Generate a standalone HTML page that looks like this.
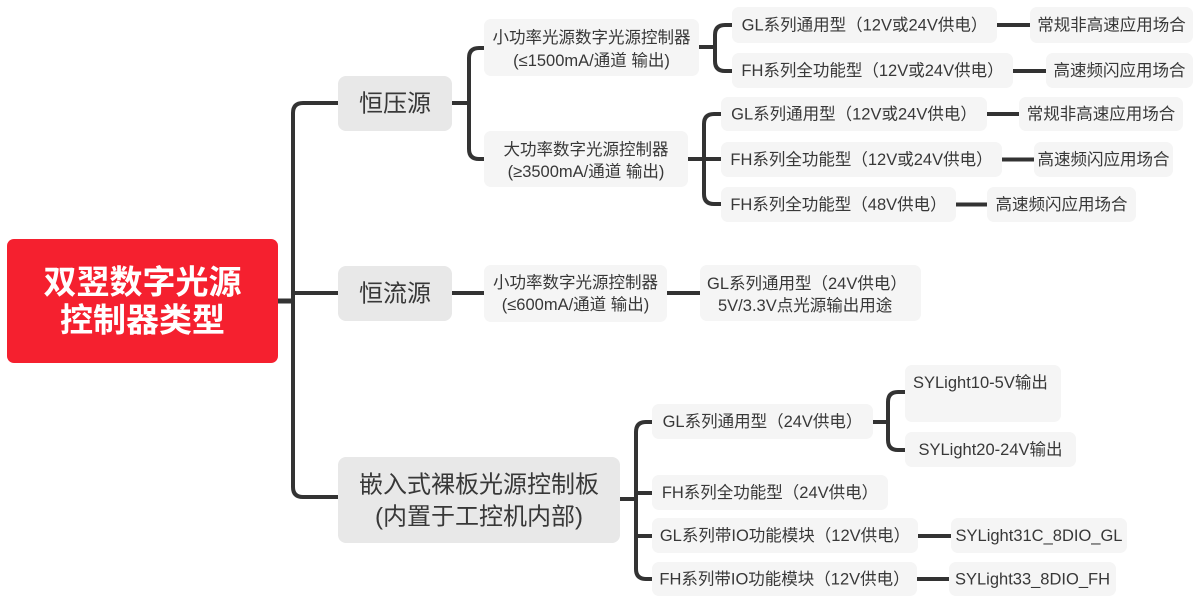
<!DOCTYPE html>
<html><head><meta charset="utf-8">
<style>
html,body{margin:0;padding:0;background:#fff;}
svg{display:block;}
text{font-family:"Liberation Sans","Noto Sans CJK SC",sans-serif;fill:#383838;}
.l1{font-size:24px;}
.lf{font-size:16.5px;}
.root{font-size:33px;font-weight:bold;fill:#fff;}
</style></head>
<body>
<svg width="1201" height="609" viewBox="0 0 1201 609" xmlns="http://www.w3.org/2000/svg">
<g fill="none" stroke="#333" stroke-width="4">
  <path d="M338,103 H303 Q293,103 293,113 V487 Q293,497 303,497 H338"/>
  <path d="M293,293 H338"/>
  <path d="M277,301 H293" stroke-width="5"/>
  <path d="M452,103 H469"/>
  <path d="M484,48 H479 Q469,48 469,58 V149 Q469,159 479,159 H484"/>
  <path d="M699,47 H715"/>
  <path d="M732,25 H725 Q715,25 715,35 V61 Q715,71 725,71 H732"/>
  <path d="M688,159 H721"/>
  <path d="M721,114 H714 Q704,114 704,124 V194 Q704,204 714,204 H721"/>
  <path d="M997,25 H1030"/>
  <path d="M1013,71 H1046"/>
  <path d="M987,114 H1019"/>
  <path d="M1002,159.5 H1034"/>
  <path d="M956,204.5 H987"/>
  <path d="M452,293 H484"/>
  <path d="M667,293 H700"/>
  <path d="M620,499 H636"/>
  <path d="M652,422 H646 Q636,422 636,432 V569 Q636,579 646,579 H652"/>
  <path d="M636,493 H652"/>
  <path d="M636,536 H652"/>
  <path d="M873,422 H888"/>
  <path d="M905,392 H898 Q888,392 888,402 V440 Q888,450 898,450 H905"/>
  <path d="M918,536 H951"/>
  <path d="M917,579 H949"/>
</g>

<!-- root -->
<rect x="7" y="239" width="271" height="124" rx="7" fill="#f5202f"/>
<text class="root" x="142.5" y="282" text-anchor="middle" dominant-baseline="central">双翌数字光源</text>
<text class="root" x="142.5" y="320" text-anchor="middle" dominant-baseline="central">控制器类型</text>

<!-- level 1 -->
<g fill="#e8e8e8">
  <rect x="338" y="76" width="114" height="55" rx="8"/>
  <rect x="338" y="266" width="114" height="55" rx="8"/>
  <rect x="338" y="457" width="282" height="86" rx="8"/>
</g>
<text class="l1" x="395" y="104" text-anchor="middle" dominant-baseline="central">恒压源</text>
<text class="l1" x="395" y="294" text-anchor="middle" dominant-baseline="central">恒流源</text>
<text class="l1" x="479" y="485" text-anchor="middle" dominant-baseline="central">嵌入式裸板光源控制板</text>
<text class="l1" x="479" y="517" text-anchor="middle" dominant-baseline="central">(内置于工控机内部)</text>

<!-- leaf boxes -->
<g fill="#f5f5f5">
  <rect x="484" y="19" width="215" height="57" rx="7"/>
  <rect x="484" y="131" width="204" height="56" rx="7"/>
  <rect x="732" y="7" width="265" height="36" rx="7"/>
  <rect x="1030" y="7" width="163" height="36" rx="7"/>
  <rect x="732" y="53" width="281" height="35" rx="7"/>
  <rect x="1046" y="53" width="147" height="35" rx="7"/>
  <rect x="721" y="97" width="266" height="34" rx="7"/>
  <rect x="1019" y="97" width="164" height="34" rx="7"/>
  <rect x="721" y="142" width="281" height="35" rx="7"/>
  <rect x="1034" y="142" width="139" height="35" rx="7"/>
  <rect x="721" y="187" width="235" height="35" rx="7"/>
  <rect x="987" y="187" width="149" height="35" rx="7"/>
  <rect x="484" y="265" width="183" height="57" rx="7"/>
  <rect x="700" y="265" width="221" height="56" rx="7"/>
  <rect x="652" y="404" width="221" height="35" rx="7"/>
  <rect x="905" y="365" width="156" height="57" rx="7"/>
  <rect x="905" y="432" width="171" height="35" rx="7"/>
  <rect x="652" y="475" width="236" height="35" rx="7"/>
  <rect x="652" y="518" width="266" height="35" rx="7"/>
  <rect x="652" y="562" width="265" height="34" rx="7"/>
  <rect x="951" y="518" width="176" height="35" rx="7"/>
  <rect x="949" y="562" width="167" height="34" rx="7"/>
</g>

<g class="lf" text-anchor="middle" dominant-baseline="central">
  <text class="lf" x="591.5" y="38">小功率光源数字光源控制器</text>
  <text class="lf" x="591.5" y="61">(≤1500mA/通道 输出)</text>
  <text class="lf" x="586" y="150">大功率数字光源控制器</text>
  <text class="lf" x="586" y="172">(≥3500mA/通道 输出)</text>

  <text class="lf" x="864.5" y="25.5">GL系列通用型（12V或24V供电）</text>
  <text class="lf" x="1111.5" y="25.5">常规非高速应用场合</text>
  <text class="lf" x="872.5" y="71">FH系列全功能型（12V或24V供电）</text>
  <text class="lf" x="1119.5" y="71">高速频闪应用场合</text>

  <text class="lf" x="854" y="114.5">GL系列通用型（12V或24V供电）</text>
  <text class="lf" x="1101" y="114.5">常规非高速应用场合</text>
  <text class="lf" x="861.5" y="160">FH系列全功能型（12V或24V供电）</text>
  <text class="lf" x="1103.5" y="160">高速频闪应用场合</text>
  <text class="lf" x="838.5" y="205">FH系列全功能型（48V供电）</text>
  <text class="lf" x="1061.5" y="205">高速频闪应用场合</text>

  <text class="lf" x="575.5" y="283">小功率数字光源控制器</text>
  <text class="lf" x="575.5" y="305">(≤600mA/通道 输出)</text>
  <text class="lf" x="707" y="284" text-anchor="start">GL系列通用型（24V供电）</text>
  <text class="lf" x="718" y="306" text-anchor="start">5V/3.3V点光源输出用途</text>

  <text class="lf" x="762.5" y="422">GL系列通用型（24V供电）</text>
  <text class="lf" x="913" y="383" text-anchor="start">SYLight10-5V输出</text>
  <text class="lf" x="990.5" y="450">SYLight20-24V输出</text>
  <text class="lf" x="770" y="493">FH系列全功能型（24V供电）</text>
  <text class="lf" x="785" y="536">GL系列带IO功能模块（12V供电）</text>
  <text class="lf" x="784.5" y="579.5">FH系列带IO功能模块（12V供电）</text>
  <text class="lf" x="1039" y="536">SYLight31C_8DIO_GL</text>
  <text class="lf" x="1032.5" y="579.5">SYLight33_8DIO_FH</text>
</g>
</svg>
</body></html>
